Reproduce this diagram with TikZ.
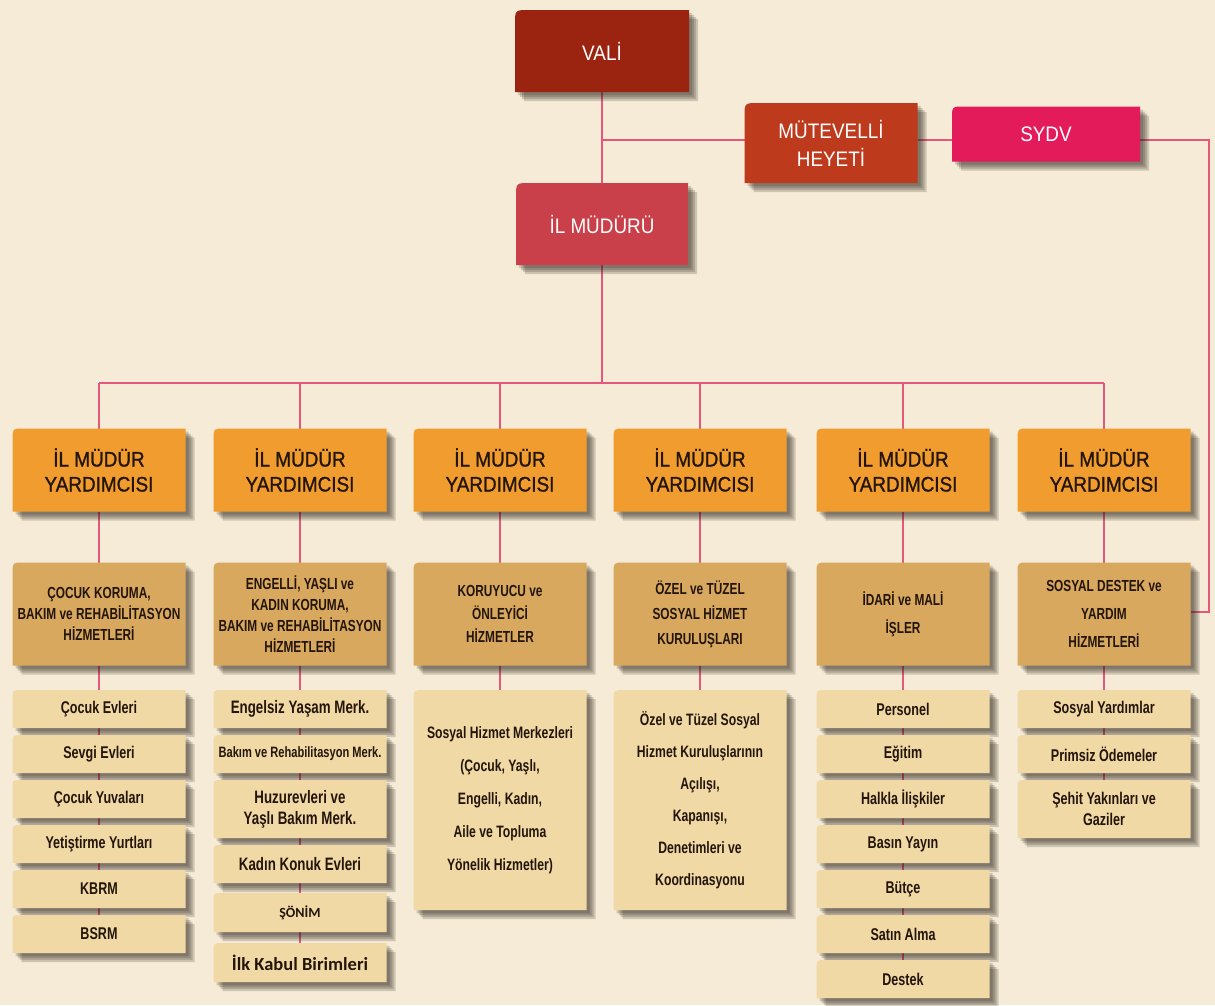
\documentclass[tikz,border=0pt]{standalone}
\usepackage{fontspec}
\setmainfont{Liberation Sans}
\newfontfamily\fTop[FakeStretch=0.9]{Liberation Sans}
\newfontfamily\fYrd[FakeStretch=0.9,FakeBold=1.2]{Liberation Sans}
\newfontfamily\fCnd[FakeStretch=0.74]{Liberation Sans}
\newfontfamily\fCal{Carlito}
\usetikzlibrary{backgrounds}
\definecolor{bg}{HTML}{F5EBD6}
\definecolor{valic}{HTML}{9A2410}
\definecolor{mhc}{HTML}{BE3A1D}
\definecolor{sydvc}{HTML}{E31B5B}
\definecolor{ilc}{HTML}{C9404A}
\definecolor{yrdc}{HTML}{F09C2E}
\definecolor{catc}{HTML}{D7A85E}
\definecolor{itemc}{HTML}{F1D9A6}
\definecolor{linec}{HTML}{E4587E}
\definecolor{txtc}{HTML}{24150A}
\definecolor{shadc}{HTML}{2A2018}
\newcommand\tshape[3]{%
  \foreach \k in {3,5,7,9} {%
    \fill[shadc, opacity=.19] ([xshift={\k*1pt},yshift={-(\k+#3)*1pt}]#1.north west) .. controls ([xshift={\k*1pt},yshift={-\k*1pt}]#1.north west) .. ([xshift={(\k+#3)*1pt},yshift={-\k*1pt}]#1.north west) -- ([xshift={\k*1pt},yshift={-\k*1pt}]#1.north east) -- ([xshift={\k*1pt},yshift={-\k*1pt}]#1.south east) -- ([xshift={\k*1pt},yshift={-\k*1pt}]#1.south west) -- cycle;}
  \fill[#2] ([yshift=-#3pt]#1.north west) .. controls (#1.north west) .. ([xshift=#3pt]#1.north west) -- (#1.north east) -- (#1.south east) -- (#1.south west) -- cycle;
}
\tikzset{
 base/.style={rectangle, inner sep=0pt, outer sep=0pt, align=center},
 topbox/.style={base, text=white, font={\fTop\fontsize{21}{28}\selectfont}},
 yrd/.style={base, minimum width=173pt, minimum height=83pt, text=txtc, font={\fYrd\fontsize{21}{25}\selectfont}},
 cat/.style={base, minimum width=173pt, minimum height=103pt, text=txtc, font={\fCnd\bfseries\fontsize{16}{21}\selectfont}},
 item/.style={base, minimum width=173pt, minimum height=38pt, text=txtc, font={\fCnd\bfseries\fontsize{17}{21}\selectfont}},
 itemb/.style={item, font={\fCnd\bfseries\fontsize{18}{21}\selectfont}},
 tall/.style={item, minimum height=58pt},
 big/.style={item, minimum height=220pt, font={\fCnd\bfseries\fontsize{16.5}{33}\selectfont}},
 calb/.style={font={\fCal\bfseries\fontsize{#1}{20}\selectfont}},
 conn/.style={draw=linec, line width=2.5pt},
}
\begin{document}
\begin{tikzpicture}[x=1pt,y=-1pt]
\useasboundingbox (0,0) rectangle (1215,1005);
% top
\node[topbox, minimum width=174pt, minimum height=82pt] (vali) at (602,51) {VALİ};
\node[topbox, minimum width=173pt, minimum height=80pt] (mh) at (831,143) {MÜTEVELLİ\\HEYETİ};
\node[topbox, minimum width=188pt, minimum height=55pt] (sydv) at (1046,134) {SYDV};
\node[topbox, minimum width=172pt, minimum height=82pt] (il) at (602,224) {İL MÜDÜRÜ};
% deputies
\node[yrd] (y1) at (99,470) {İL MÜDÜR\\YARDIMCISI};
\node[yrd] (y2) at (300,470) {İL MÜDÜR\\YARDIMCISI};
\node[yrd] (y3) at (500,470) {İL MÜDÜR\\YARDIMCISI};
\node[yrd] (y4) at (700,470) {İL MÜDÜR\\YARDIMCISI};
\node[yrd] (y5) at (903,470) {İL MÜDÜR\\YARDIMCISI};
\node[yrd] (y6) at (1104,470) {İL MÜDÜR\\YARDIMCISI};
% categories
\node[cat] (c1) at (99,614) {ÇOCUK KORUMA,\\BAKIM ve REHABİLİTASYON\\HİZMETLERİ};
\node[cat] (c2) at (300,614) {ENGELLİ, YAŞLI ve\\KADIN KORUMA,\\BAKIM ve REHABİLİTASYON\\HİZMETLERİ};
\node[cat, font={\fCnd\bfseries\fontsize{16}{23}\selectfont}] (c3) at (500,614) {KORUYUCU ve\\ÖNLEYİCİ\\HİZMETLER};
\node[cat, font={\fCnd\bfseries\fontsize{16}{25}\selectfont}] (c4) at (700,614) {ÖZEL ve TÜZEL\\SOSYAL HİZMET\\KURULUŞLARI};
\node[cat, font={\fCnd\bfseries\fontsize{16}{28}\selectfont}] (c5) at (903,614) {İDARİ ve MALİ\\İŞLER};
\node[cat, font={\fCnd\bfseries\fontsize{16}{28}\selectfont}] (c6) at (1104,614) {SOSYAL DESTEK ve\\YARDIM\\HİZMETLERİ};
% column 1
\node[item] (i11) at (99,709) {Çocuk Evleri};
\node[item] (i12) at (99,754) {Sevgi Evleri};
\node[item] (i13) at (99,799) {Çocuk Yuvaları};
\node[item] (i14) at (99,844) {Yetiştirme Yurtları};
\node[item] (i15) at (99,889) {KBRM};
\node[item] (i16) at (99,934) {BSRM};
% column 2
\node[itemb] (i21) at (300,709) {Engelsiz Yaşam Merk.};
\node[item, font={\fCnd\bfseries\fontsize{15}{21}\selectfont}] (i22) at (300,754) {Bakım ve Rehabilitasyon Merk.};
\node[itemb, minimum height=58pt] (i23) at (300,809) {Huzurevleri ve\\Yaşlı Bakım Merk.};
\node[itemb] (i24) at (300,864) {Kadın Konuk Evleri};
\node[item, minimum height=39pt, calb=14] (i25) at (300,912.5) {ŞÖNİM};
\node[item, minimum height=39pt, calb=18.5] (i26) at (300,962.5) {İlk Kabul Birimleri};
% columns 3, 4
\node[big] (s3) at (500,800) {Sosyal Hizmet Merkezleri\\(Çocuk, Yaşlı,\\Engelli, Kadın,\\Aile ve Topluma\\Yönelik Hizmetler)};
\node[big, font={\fCnd\bfseries\fontsize{16.5}{32}\selectfont}] (s4) at (700,800) {Özel ve Tüzel Sosyal\\Hizmet Kuruluşlarının\\Açılışı,\\Kapanışı,\\Denetimleri ve\\Koordinasyonu};
% column 5
\node[item] (i51) at (903,709) {Personel};
\node[item] (i52) at (903,754) {Eğitim};
\node[item] (i53) at (903,799) {Halkla İlişkiler};
\node[item] (i54) at (903,844) {Basın Yayın};
\node[item] (i55) at (903,889) {Bütçe};
\node[item] (i56) at (903,934) {Satın Alma};
\node[item] (i57) at (903,979) {Destek};
% column 6
\node[item] (i61) at (1104,709) {Sosyal Yardımlar};
\node[item] (i62) at (1104,754) {Primsiz Ödemeler};
\node[tall] (i63) at (1104,809) {Şehit Yakınları ve\\Gaziler};

\coordinate (j) at (602,140);
\coordinate (bus) at (602,383);
\coordinate (rt) at (1209,140);
\coordinate (rb) at (1209,612);

\begin{scope}[on background layer]
\fill[bg] (0,0) rectangle (1215,1005);
% connectors
\draw[conn] (vali) -- (il);
\draw[conn] (j) -- (j -| mh.west);
\draw[conn] (mh.east |- j) -- (sydv.west |- j);
\draw[conn] (sydv.east |- rt) -- (rt) -- (rb) -- (rb -| c6.east);
\draw[conn] (il) -- (bus);
\draw[conn] (y1.north |- bus) -- (y6.north |- bus);
\foreach \i in {1,...,6} {
  \draw[conn] (y\i.north |- bus) -- (y\i);
  \draw[conn] (y\i) -- (c\i);
}
\draw[conn] (c1) -- (i16);
\draw[conn] (c2) -- (i26);
\draw[conn] (c3) -- (s3);
\draw[conn] (c4) -- (s4);
\draw[conn] (c5) -- (i57);
\draw[conn] (c6) -- (i63);
% box shapes
\foreach \n/\c/\r in {vali/valic/14, mh/mhc/14, sydv/sydvc/12, il/ilc/14,
   y1/yrdc/11, y2/yrdc/11, y3/yrdc/11, y4/yrdc/11, y5/yrdc/11, y6/yrdc/11,
   c1/catc/11, c2/catc/11, c3/catc/11, c4/catc/11, c5/catc/11, c6/catc/11,
   i11/itemc/9, i12/itemc/9, i13/itemc/9, i14/itemc/9, i15/itemc/9, i16/itemc/9,
   i21/itemc/9, i22/itemc/9, i23/itemc/9, i24/itemc/9, i25/itemc/9, i26/itemc/9,
   s3/itemc/11, s4/itemc/11,
   i51/itemc/9, i52/itemc/9, i53/itemc/9, i54/itemc/9, i55/itemc/9, i56/itemc/9, i57/itemc/9,
   i61/itemc/9, i62/itemc/9, i63/itemc/9} {
  \tshape{\n}{\c}{\r}
}
\end{scope}
\end{tikzpicture}
\end{document}
